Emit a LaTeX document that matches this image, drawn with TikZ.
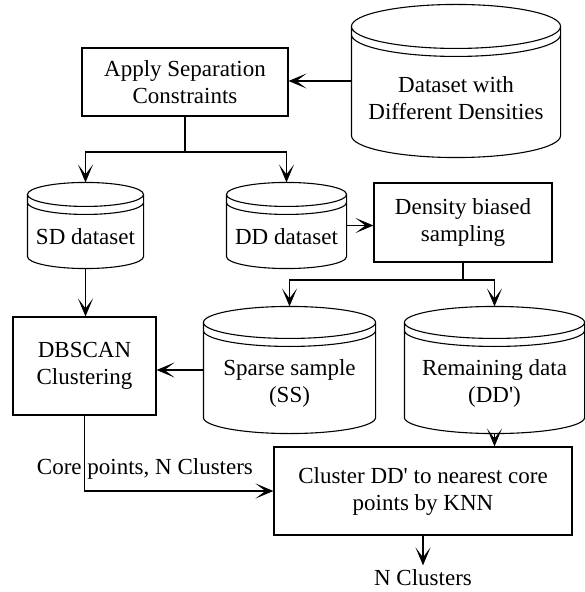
\documentclass[tikz,border=0pt]{standalone}
\usepackage{fontspec}
\setmainfont{Liberation Serif}
\usetikzlibrary{arrows.meta,calc}

\begin{document}
\begin{tikzpicture}[x=0.5pt,y=-0.5pt,font=\fontsize{11.5}{13.5}\selectfont,line width=0.55pt]
\tikzstyle{block} = [rectangle, draw, align=center, inner sep=0pt]
\tikzstyle{data} = [rectangle, inner sep=0pt, append after command={\pgfextra{
  \let\dbnode=\tikzlastnode
  \draw let \p1=(\dbnode.north west), \p2=(\dbnode.south east), \n1={(\x2-\x1)/2} in
    (\x1,\y1-#1) arc[start angle=180, end angle=0, x radius=\n1, y radius=#1]
    -- (\x2,\y2+#1) arc[start angle=0, end angle=-180, x radius=\n1, y radius=#1] -- cycle
    (\x1,\y1-#1) arc[start angle=180, end angle=360, x radius=\n1, y radius=#1]
    (\x1,\y1-#1-4pt) arc[start angle=180, end angle=360, x radius=\n1, y radius=#1];}}]
\tikzstyle{line} = [draw, -{Stealth[length=9pt, width=7.5pt, inset=5pt]}]
\useasboundingbox (0,0) rectangle (584,592);

% row 1
\node [data=11pt, minimum width=104pt, minimum height=76pt,
  label={[yshift=-8.5pt, align=center]center:Dataset with\\Different Densities}] (ds) at (456,81) {};
\node [block, minimum width=103pt, minimum height=34pt] (sep) at (185,82) {Apply Separation\\Constraints};
\coordinate (split1) at (185,152);
% row 2
\node [data=6pt, minimum width=57.5pt, minimum height=42.5pt,
  label={[yshift=-5.75pt]center:SD dataset}] (sd) at (85.5,225.5) {};
\node [data=6pt, minimum width=59.5pt, minimum height=42.5pt,
  label={[yshift=-5.75pt]center:DD dataset}] (dd) at (286.5,225.5) {};
\node [block, minimum width=89pt, minimum height=39.5pt] (dbs) at (463,222.5) {Density biased\\sampling};
\coordinate (split2) at (463,280);
% row 3
\node [block, minimum width=71.5pt, minimum height=49pt] (dbscan) at (84.5,366) {DBSCAN\\Clustering};
\node [data=8pt, minimum width=85.5pt, minimum height=63pt,
  label={[yshift=-6.75pt, align=center]center:Sparse sample\\(SS)}] (ss) at (289.5,370) {};
\node [data=8pt, minimum width=89.5pt, minimum height=63pt,
  label={[yshift=-6.75pt, align=center]center:Remaining data\\(DD\textquotesingle)}] (rd) at (494.5,370) {};
% row 4
\node [block, minimum width=149pt, minimum height=44pt] (clu) at (423,491) {Cluster DD\textquotesingle{} to nearest core\\points by KNN};
\node [inner sep=2pt] (out) at (423,578) {N Clusters};

\path[line] (ds) -- (ds -| sep.east);
\draw (sep) -- (split1);
\path[line] (split1) -| (sd);
\path[line] (split1) -| (dd);
\path[line] (dd) -- (dd -| dbs.west);
\draw (dbs) -- (split2);
\path[line] (split2) -| (ss);
\path[line] (split2) -| (rd);
\path[line] (sd) -- (sd |- dbscan.north);
\path[line] (ss) -- (ss -| dbscan.east);
\path[line] (rd) -- (rd |- clu.north);
\path[line] (dbscan) |- node [pos=0.66, above=2pt] (core) {Core points, N Clusters} (clu);
\path[line] (clu) -- (out);
\end{tikzpicture}
\end{document}
